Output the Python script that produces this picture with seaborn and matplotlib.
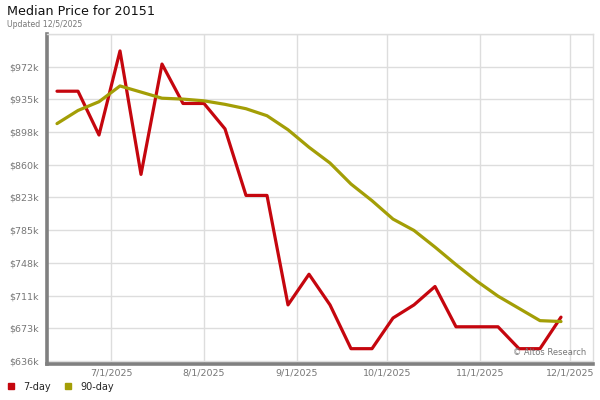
import matplotlib
matplotlib.use("Agg")
import matplotlib.pyplot as plt
import matplotlib.dates as mdates
from matplotlib.lines import Line2D
import seaborn as sns
import pandas as pd
import numpy as np

# ---- data ----
start_date = "2025-06-13"
n_weeks = 25
seven_day = [944, 944, 894, 990, 849, 975, 930, 930, 901, 825, 825, 700, 735,
             700, 650, 650, 685, 700, 721, 675, 675, 675, 650, 650, 686]
ninety_day = [907, 922, 932, 950, 943, 936, 935, 933, 929, 924, 916, 900, 880,
              862, 838, 819, 798, 785, 766, 746, 727, 710, 696, 682, 681]
series_names = ["7-day", "90-day"]
y_tick_values = [636, 673.33, 710.67, 748, 785.33, 822.67, 860, 897.33, 934.67, 972, 1009.33]
y_tick_labels = ["$636k", "$673k", "$711k", "$748k", "$785k", "$823k", "$860k",
                 "$898k", "$935k", "$972k", ""]
x_tick_dates = ["2025-07-01", "2025-08-01", "2025-09-01", "2025-10-01", "2025-11-01", "2025-12-01"]
x_tick_labels = ["7/1/2025", "8/1/2025", "9/1/2025", "10/1/2025", "11/1/2025", "12/1/2025"]
title = "Median Price for 20151"
subtitle = "Updated 12/5/2025"
watermark = "\u00a9 Altos Research"

dates = pd.date_range(start_date, periods=n_weeks, freq="7D")
df = pd.DataFrame({
    "date": list(dates) * 2,
    "value": seven_day + ninety_day,
    "series": [series_names[0]] * n_weeks + [series_names[1]] * n_weeks,
})

colors = {"7-day": "#c5060e", "90-day": "#a39e06"}

sns.set_theme(style="white")
plt.rcParams["font.family"] = ["DejaVu Sans"]

fig = plt.figure(figsize=(6, 4), dpi=100)
ax = fig.add_axes([47 / 600, 1 - 364 / 400, (593 - 47) / 600, (364 - 34) / 400])

sns.lineplot(data=df, x="date", y="value", hue="series", palette=colors,
             linewidth=2.3, ax=ax, legend=False, zorder=3)

ax.set_xlim(pd.Timestamp("2025-06-09 16:00"), pd.Timestamp("2025-12-08 16:00"))
ax.set_ylim(632.5, 1009.33)
ax.set_yticks(y_tick_values)
ax.set_yticklabels(y_tick_labels)
ax.set_xticks([pd.Timestamp(d) for d in x_tick_dates])
ax.set_xticklabels(x_tick_labels)
ax.set_xlabel("")
ax.set_ylabel("")

ax.grid(True, color="#dddddd", linewidth=1)
ax.set_axisbelow(True)
ax.tick_params(axis="both", length=0, labelsize=6.8, labelcolor="#777777")
ax.tick_params(axis="y", pad=6)
ax.tick_params(axis="x", pad=3)

for s in ["top", "right"]:
    ax.spines[s].set_color("#dddddd")
    ax.spines[s].set_linewidth(1)
for s in ["left", "bottom"]:
    ax.spines[s].set_color("#808080")
    ax.spines[s].set_linewidth(2.6)

ax.text(0.987, 0.02, watermark, transform=ax.transAxes, ha="right", va="bottom",
        fontsize=6, color="#777777")

fig.text(7 / 600, 1 - 5 / 400, title, ha="left", va="top", fontsize=9.2, color="#111111")
fig.text(7 / 600, 1 - 20 / 400, subtitle, ha="left", va="top", fontsize=5.6, color="#777777")

handles = [Line2D([0], [0], marker="s", color="none", markerfacecolor=colors[n],
                  markeredgecolor=colors[n], markersize=4.5, label=n) for n in series_names]
fig.legend(handles=handles, loc="center left", bbox_to_anchor=(5 / 600, 1 - 386.5 / 400),
           ncol=2, frameon=False, fontsize=7, handlelength=0.8, handletextpad=0.9,
           columnspacing=1.3, borderaxespad=0, borderpad=0.2)

fig.savefig("out.png", dpi=100)
